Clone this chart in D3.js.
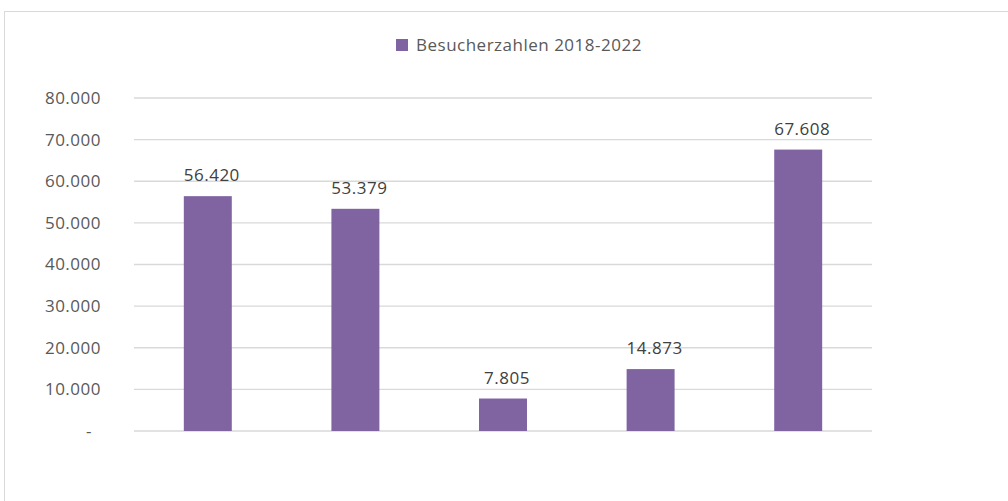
<!DOCTYPE html>
<html>
<head>
<meta charset="utf-8">
<script src="https://cdn.jsdelivr.net/npm/d3@7"></script>
<style>
  body { margin: 0; background: #fff; }
  text { font-family: "Open Sans", sans-serif; letter-spacing: 0.5px; }
</style>
</head>
<body>
<div id="chart"></div>
<script>
// data
const categories = ["2018", "2019", "2020", "2021", "2022"];
const visitors = [56420, 53379, 7805, 14873, 67608];
const yTicks = [0, 10000, 20000, 30000, 40000, 50000, 60000, 70000, 80000];
const seriesName = "Besucherzahlen 2018-2022";

const W = 1008, H = 501;
const margin = {top: 98, right: 136, bottom: 70, left: 134};
const width = W - margin.left - margin.right;
const height = 431 - margin.top;

const fmt = v => v === 0 ? "-" : d3.format(",")(v).replace(/,/g, ".");

const svg = d3.select("#chart").append("svg")
    .attr("width", W)
    .attr("height", H);

// outer chart border
svg.append("rect")
    .attr("x", 4.5).attr("y", 11.5)
    .attr("width", W + 10).attr("height", H + 10)
    .attr("fill", "none")
    .attr("stroke", "#d9d9d9");

const g = svg.append("g")
    .attr("transform", "translate(" + margin.left + "," + margin.top + ")");

const x = d3.scaleBand()
    .domain(categories)
    .range([0, width])
    .paddingInner(0.675)
    .paddingOuter(0.3375);

const y = d3.scaleLinear()
    .domain([0, 80000])
    .range([height, 0]);

// gridlines
g.selectAll(".grid")
    .data(yTicks)
    .enter().append("line")
    .attr("class", "grid")
    .attr("x1", 0).attr("x2", width)
    .attr("y1", d => y(d)).attr("y2", d => y(d))
    .attr("stroke", "#d9d9d9")
    .attr("stroke-width", 1.3);

// y axis labels
const yAxis = d3.axisLeft(y)
    .tickValues(yTicks)
    .tickFormat(fmt)
    .tickSize(0)
    .tickPadding(33);

g.append("g")
    .attr("class", "y-axis")
    .call(yAxis)
    .call(s => s.select(".domain").remove())
    .selectAll("text")
    .attr("fill", "#595959")
    .attr("dx", d => d === 0 ? -9 : 0)
    .style("font-size", "17px");

// bars
g.selectAll(".bar")
    .data(visitors)
    .enter().append("rect")
    .attr("class", "bar")
    .attr("x", (d, i) => x(categories[i]))
    .attr("y", d => y(d))
    .attr("width", x.bandwidth())
    .attr("height", d => height - y(d))
    .attr("fill", "#8064a2");

// value labels
g.selectAll(".label")
    .data(visitors)
    .enter().append("text")
    .attr("class", "label")
    .attr("x", (d, i) => x(categories[i]) + x.bandwidth() / 2 + 4)
    .attr("y", d => y(d) - 15)
    .attr("text-anchor", "middle")
    .attr("fill", "#404040")
    .style("font-size", "17px")
    .text(fmt);

// legend
const legend = svg.append("g")
    .attr("transform", "translate(396,39)");
legend.append("rect")
    .attr("width", 12).attr("height", 12)
    .attr("fill", "#8064a2");
legend.append("text")
    .attr("x", 20).attr("y", 12)
    .attr("fill", "#595959")
    .style("font-size", "17px")
    .text(seriesName);
</script>
</body>
</html>
